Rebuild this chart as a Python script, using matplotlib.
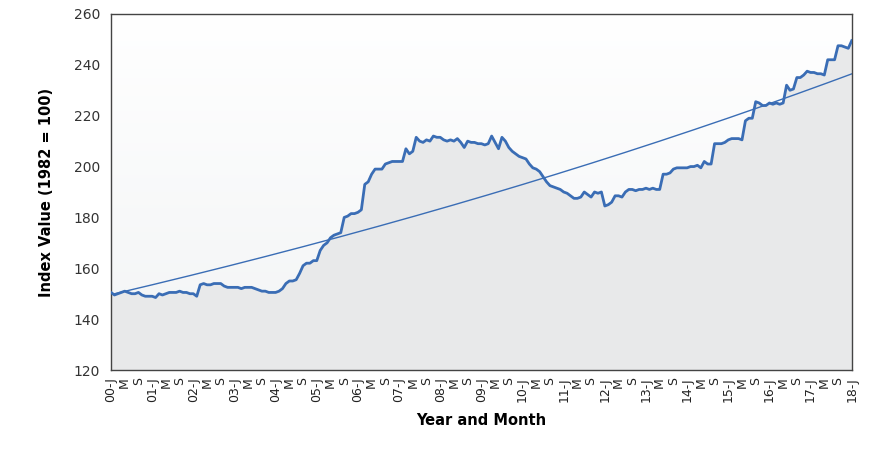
import numpy as np
import matplotlib.pyplot as plt

# monthly index values, Jan 2000 .. Jan 2018
y2000 = [150.5, 149.5, 150, 150.5, 151, 150.5, 150, 150, 150.5, 149.5, 149, 149]
y2001 = [149, 148.5, 150, 149.5, 150, 150.5, 150.5, 150.5, 151, 150.5, 150.5, 150]
y2002 = [150, 149, 153.5, 154, 153.5, 153.5, 154, 154, 154, 153, 152.5, 152.5]
y2003 = [152.5, 152.5, 152, 152.5, 152.5, 152.5, 152, 151.5, 151, 151, 150.5, 150.5]
y2004 = [150.5, 151, 152, 154, 155, 155, 155.5, 158, 161, 162, 162, 163]
y2005 = [163, 167, 169, 170, 172, 173, 173.5, 174, 180, 180.5, 181.5, 181.5]
y2006 = [182, 183, 193, 194, 197, 199, 199, 199, 201, 201.5, 202, 202]
y2007 = [202, 202, 207, 205, 206, 211.5, 210, 209.5, 210.5, 210, 212, 211.5]
y2008 = [211.5, 210.5, 210, 210.5, 210, 211, 209.5, 207.5, 210, 209.5, 209.5, 209]
y2009 = [209, 208.5, 209, 212, 209.5, 207, 211.5, 210, 207.5, 206, 205, 204]
y2010 = [203.5, 203, 201, 199.5, 199, 198, 196, 194, 192.5, 192, 191.5, 191]
y2011 = [190, 189.5, 188.5, 187.5, 187.5, 188, 190, 189, 188, 190, 189.5, 190]
y2012 = [184.5, 185, 186, 188.5, 188.5, 188, 190, 191, 191, 190.5, 191, 191]
y2013 = [191.5, 191, 191.5, 191, 191, 197, 197, 197.5, 199, 199.5, 199.5, 199.5]
y2014 = [199.5, 200, 200, 200.5, 199.5, 202, 201, 201, 209, 209, 209, 209.5]
y2015 = [210.5, 211, 211, 211, 210.5, 218, 219, 219, 225.5, 225, 224, 224]
y2016 = [225, 224.5, 225, 224.5, 225, 232, 230, 230.5, 235, 235, 236, 237.5]
y2017 = [237, 237, 236.5, 236.5, 236, 242, 242, 242, 247.5, 247.5, 247, 246.5]
y2018 = [249.5]

values = np.array(y2000 + y2001 + y2002 + y2003 + y2004 + y2005 + y2006 + y2007 + y2008
                  + y2009 + y2010 + y2011 + y2012 + y2013 + y2014 + y2015 + y2016 + y2017 + y2018)
x = np.arange(len(values))

tick_labels = []
for yr in range(0, 19):
    tick_labels += ["%02d-J" % yr, "M", "S"]
tick_labels = tick_labels[:len(range(0, len(values), 4))]

blue = "#3a6db5"
fig = plt.figure(figsize=(8.7, 4.51), dpi=100)
ax = fig.add_axes([0.1276, 0.1796, 0.8514, 0.7894])

# background gradient
grad = np.linspace(0, 1, 256).reshape(-1, 1)
ax.imshow(grad, extent=[0, len(values) - 1, 120, 260], aspect="auto",
          cmap=plt.matplotlib.colors.LinearSegmentedColormap.from_list("g", ["#f2f4f5", "#ffffff"]),
          origin="lower", zorder=0)
ax.fill_between(x, 120, values, color="#e8e9ea", zorder=1)

# exponential trend line
coef = np.polyfit(x, np.log(values), 1)
ax.plot(x, np.exp(np.polyval(coef, x)), color=blue, lw=1, zorder=2)
ax.plot(x, values, color=blue, lw=2, zorder=3)

ax.set_xlim(0, len(values) - 1)
ax.set_ylim(120, 260)
ax.set_yticks(range(120, 261, 20))
ax.set_xticks(range(0, len(values), 4))
ax.set_xticklabels(tick_labels, rotation=90, fontsize=9, color="#222222")
ax.tick_params(axis="y", labelsize=10, colors="#333333", length=0, pad=8)
ax.tick_params(axis="x", length=0, pad=5)
for s in ax.spines.values():
    s.set_color("#444444")
    s.set_linewidth(1)

ax.set_ylabel("Index Value (1982 = 100)", fontsize=10.5, fontweight="bold", labelpad=14)
ax.set_xlabel("Year and Month", fontsize=10.5, fontweight="bold", labelpad=8)

fig.savefig("out.png")
